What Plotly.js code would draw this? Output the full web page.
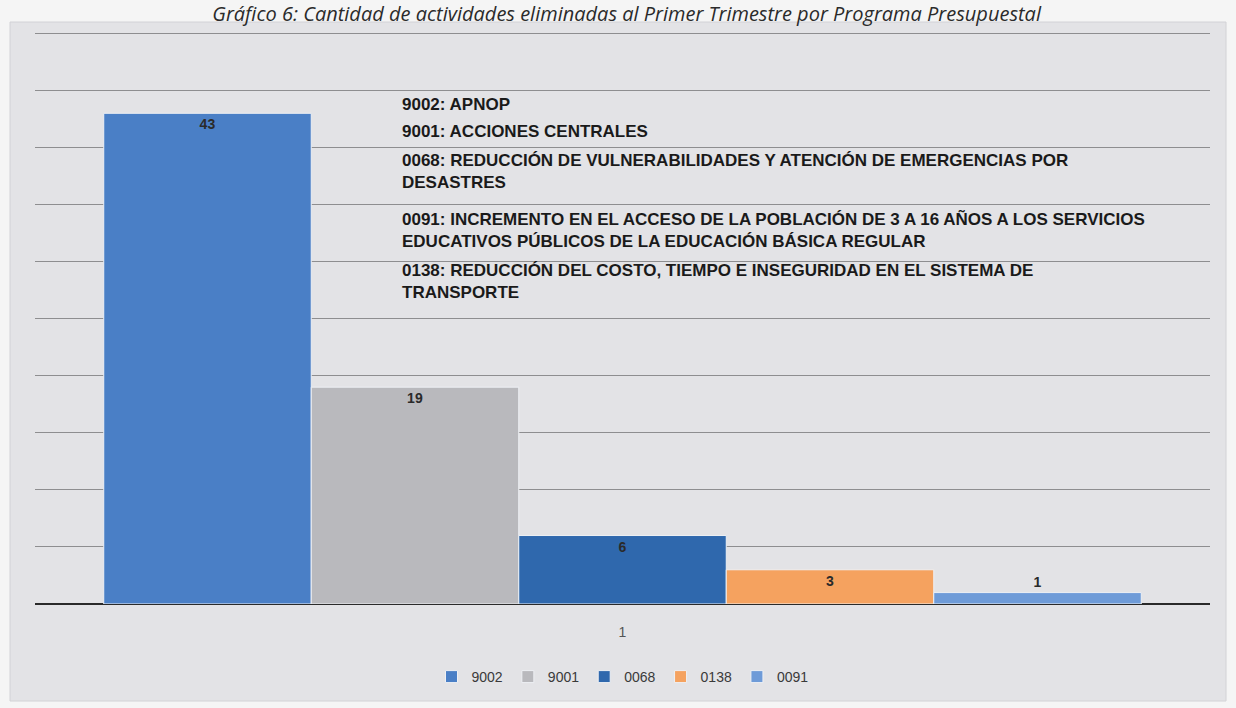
<!DOCTYPE html>
<html>
<head>
<meta charset="utf-8">
<script src="https://cdn.plot.ly/plotly-3.0.1.min.js"></script>
<style>
html,body{margin:0;padding:0;background:#f5f5f5;}
#chart{width:1236px;height:708px;}
</style>
</head>
<body>
<div id="chart"></div>
<script>
// ---- data ----
const category = ['1'];
const seriesNames = ['9002', '9001', '0068', '0138', '0091'];
const seriesValues = [43, 19, 6, 3, 1];
const seriesColors = ['#4a7fc6', '#b9b9bd', '#2f68ad', '#f5a25f', '#6e9bd8'];
const programLabels = [
  '9002: APNOP',
  '9001: ACCIONES CENTRALES',
  '0068: REDUCCIÓN DE VULNERABILIDADES Y ATENCIÓN DE EMERGENCIAS POR<br>DESASTRES',
  '0091: INCREMENTO EN EL ACCESO DE LA POBLACIÓN DE 3 A 16 AÑOS A LOS SERVICIOS<br>EDUCATIVOS PÚBLICOS DE LA EDUCACIÓN BÁSICA REGULAR',
  '0138: REDUCCIÓN DEL COSTO, TIEMPO E INSEGURIDAD EN EL SISTEMA DE<br>TRANSPORTE'
];
const titleText = 'Gráfico 6: Cantidad de actividades eliminadas al Primer Trimestre por Programa Presupuestal';
const yTicks = [0, 5, 10, 15, 20, 25, 30, 35, 40, 45, 50];

// ---- geometry helpers (pixel -> paper) ----
const plotTop = 30, plotBottom = 604, plotH = plotBottom - plotTop;
const py = p => (plotBottom - p) / plotH;

// ---- traces ----
const labelFont = {family: 'Liberation Sans, Arial, sans-serif', size: 14, color: '#2a2a2a', weight: 'bold'};
const traces = seriesNames.map((name, i) => ({
  type: 'bar',
  name: name,
  x: category,
  y: [seriesValues[i]],
  text: [String(seriesValues[i])],
  textposition: 'auto',
  insidetextanchor: 'end',
  textfont: labelFont,
  outsidetextfont: labelFont,
  insidetextfont: labelFont,
  cliponaxis: false,
  marker: {color: seriesColors[i], line: {color: '#eef0f4', width: 1}},
  hoverinfo: 'name+y'
}));

// ---- annotation positions ----
const annPix = [104, 131, 171.5, 230.5, 281.5];
const annotations = programLabels.map((t, i) => ({
  text: t,
  xref: 'paper', yref: 'paper',
  x: 0.3106, y: py(annPix[i]),
  xanchor: 'left', yanchor: 'middle',
  align: 'left',
  showarrow: false,
  font: {family: 'Liberation Sans Narrow, Arial Narrow, Liberation Sans, Arial, sans-serif', size: 17, color: '#1a1a1a', weight: 'bold'}
}));

const layout = {
  width: 1236, height: 708,
  paper_bgcolor: '#f5f5f5',
  plot_bgcolor: 'rgba(0,0,0,0)',
  margin: {l: 35, r: 26, t: plotTop, b: 708 - plotBottom},
  title: {
    text: titleText,
    x: 0.507, xanchor: 'center',
    y: 1 - 14 / 708, yanchor: 'middle',
    font: {family: 'Open Sans, Liberation Sans, sans-serif', size: 20, color: '#2b2b2b', style: 'italic'}
  },
  barmode: 'group',
  bargap: 0.117,
  bargroupgap: 0,
  showlegend: true,
  legend: {
    orientation: 'h',
    x: 0.5, xanchor: 'center',
    y: py(677), yanchor: 'middle',
    font: {family: 'Liberation Sans, Arial, sans-serif', size: 14, color: '#3a3a3a'},
    bgcolor: 'rgba(0,0,0,0)',
    itemwidth: 30,
    traceorder: 'normal'
  },
  xaxis: {
    type: 'category',
    showgrid: false,
    showline: false,
    ticks: '',
    ticklabelstandoff: 18,
    tickfont: {family: 'Liberation Sans, Arial, sans-serif', size: 14, color: '#555'},
    fixedrange: true
  },
  yaxis: {
    range: [0, 50.3],
    tickvals: yTicks,
    showticklabels: false,
    showgrid: true,
    gridcolor: '#8e8e90',
    gridwidth: 1,
    zeroline: true,
    zerolinecolor: '#2a2a2a',
    zerolinewidth: 2,
    showline: false,
    fixedrange: true
  },
  shapes: [{
    type: 'rect', layer: 'below',
    xref: 'paper', yref: 'paper',
    x0: (10 - 35) / 1175, x1: (1226 - 35) / 1175,
    y0: py(701), y1: py(22),
    fillcolor: '#e3e3e6',
    line: {color: '#d2d2d6', width: 1}
  }],
  annotations: annotations
};

Plotly.newPlot('chart', traces, layout, {displayModeBar: false, staticPlot: true});
</script>
</body>
</html>
